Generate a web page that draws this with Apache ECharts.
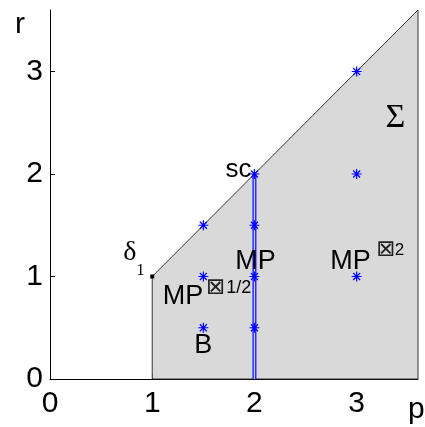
<!DOCTYPE html>
<html>
<head>
<meta charset="utf-8">
<script src="https://cdn.jsdelivr.net/npm/echarts@6/dist/echarts.min.js"></script>
<style>
  html, body { margin: 0; padding: 0; background: #fff; }
  #chart { width: 425px; height: 427px; }
</style>
</head>
<body>
<div id="chart"></div>
<script>
// tick labels
const tickValues = [0, 1, 2, 3];
// shaded region Sigma (p, r vertices)
const regionP = [1, 1, 3.6, 3.6];
const regionR = [0, 1, 3.6, 0];
// blue star points
const starP = [1.5, 1.5, 1.5, 2, 2, 2, 2, 3, 3, 3];
const starR = [1.5, 1, 0.5, 2, 1.5, 1, 0.5, 3, 2, 1];
// blue vertical segment at p = 2
const segP = [2, 2];
const segR = [0, 2];
// corner point delta_1
const cornerP = [1];
const cornerR = [1];
// annotation texts
const annotTexts = ["Σ", "sc", "δ", "1", "MP", "MP", "⊠", "2", "MP", "⊠", "1/2", "B"];

const chart = echarts.init(document.getElementById("chart"));

const sans = "Liberation Sans, Arial, sans-serif";
const serif = "Liberation Serif, Times New Roman, serif";
const sym = "DejaVu Sans";

// where and how each annotation is drawn
const annotStyle = [
  { at: [3.38, 2.55], pos: "inside", font: serif, size: 34 },
  { at: [1.97, 2.04], pos: "left", font: sans, size: 26 },
  { at: [0.78, 1.23], pos: "inside", font: serif, size: 28 },
  { at: [0.885, 1.06], pos: "inside", font: serif, size: 16 },
  { at: [2.01, 1.15], pos: "inside", font: sans, size: 27 },
  { at: [2.94, 1.15], pos: "inside", font: sans, size: 27 },
  { at: [3.285, 1.26], pos: "inside", font: sym, size: 23 },
  { at: [3.42, 1.26], pos: "inside", font: sans, size: 17 },
  { at: [1.3, 0.8], pos: "inside", font: sans, size: 27 },
  { at: [1.62, 0.89], pos: "inside", font: sym, size: 23 },
  { at: [1.725, 0.89], pos: "right", font: sans, size: 18 },
  { at: [1.5, 0.33], pos: "inside", font: sans, size: 27 }
];

const starPath = "path://M5,0L5,10M0,5L10,5M1.5,1.5L8.5,8.5M1.5,8.5L8.5,1.5";

const axisCommon = {
  type: "value",
  min: 0,
  max: 3.6,
  splitLine: { show: false },
  axisLine: { lineStyle: { color: "#000", width: 1 } },
  axisTick: { inside: true, length: 5, customValues: tickValues, lineStyle: { color: "#000" } },
  axisLabel: {
    customValues: tickValues,
    color: "#000",
    fontSize: 30,
    fontFamily: sans
  }
};

const option = {
  animation: false,
  grid: { left: 50, right: 7, top: 10, bottom: 48, outerBoundsMode: "none" },
  xAxis: Object.assign({}, axisCommon, { axisLabel: Object.assign({}, axisCommon.axisLabel, { margin: 10 }) }),
  yAxis: Object.assign({}, axisCommon, { axisLabel: Object.assign({}, axisCommon.axisLabel, { margin: 7 }) }),
  graphic: [
    { type: "text", left: 15, top: 10, style: { text: "r", fontSize: 30, fontFamily: sans, fill: "#000" } },
    { type: "text", left: 408, top: 395, style: { text: "p", fontSize: 30, fontFamily: sans, fill: "#000" } }
  ],
  series: [
    {
      type: "custom",
      z: 1,
      data: regionP.map((p, i) => [p, regionR[i]]),
      renderItem: function (params, api) {
        if (params.dataIndex > 0) return;
        const pts = regionP.map((p, i) => api.coord([p, regionR[i]]));
        return {
          type: "polygon",
          shape: { points: pts },
          style: { fill: "#d9d9d9", stroke: "#222", lineWidth: 0.9 }
        };
      }
    },
    {
      type: "line",
      z: 2,
      symbol: "none",
      data: segP.map((p, i) => [p, segR[i]]),
      lineStyle: { color: "#1a1aff", width: 4 }
    },
    {
      type: "line",
      z: 3,
      symbol: "none",
      data: segP.map((p, i) => [p, segR[i]]),
      lineStyle: { color: "#c9d2ff", width: 1.3 }
    },
    {
      type: "scatter",
      z: 4,
      symbol: starPath,
      symbolSize: 10,
      data: starP.map((p, i) => [p, starR[i]]),
      itemStyle: { color: "rgba(0,0,0,0)", borderColor: "#0000ff", borderWidth: 1.2, opacity: 1 }
    },
    {
      type: "scatter",
      z: 4,
      symbol: "rect",
      symbolSize: 4,
      data: cornerP.map((p, i) => [p, cornerR[i]]),
      itemStyle: { color: "#000", opacity: 1 }
    },
    {
      type: "scatter",
      z: 5,
      symbolSize: 0,
      data: annotTexts.map((t, i) => ({
        value: annotStyle[i].at,
        label: {
          show: true,
          formatter: t,
          position: annotStyle[i].pos,
          distance: 0,
          color: t === "⊠" ? "#222" : "#000",
          textBorderWidth: 0,
          fontSize: annotStyle[i].size,
          fontFamily: annotStyle[i].font
        }
      })),
      itemStyle: { color: "rgba(0,0,0,0)", opacity: 1 }
    }
  ]
};

chart.setOption(option);
</script>
</body>
</html>
